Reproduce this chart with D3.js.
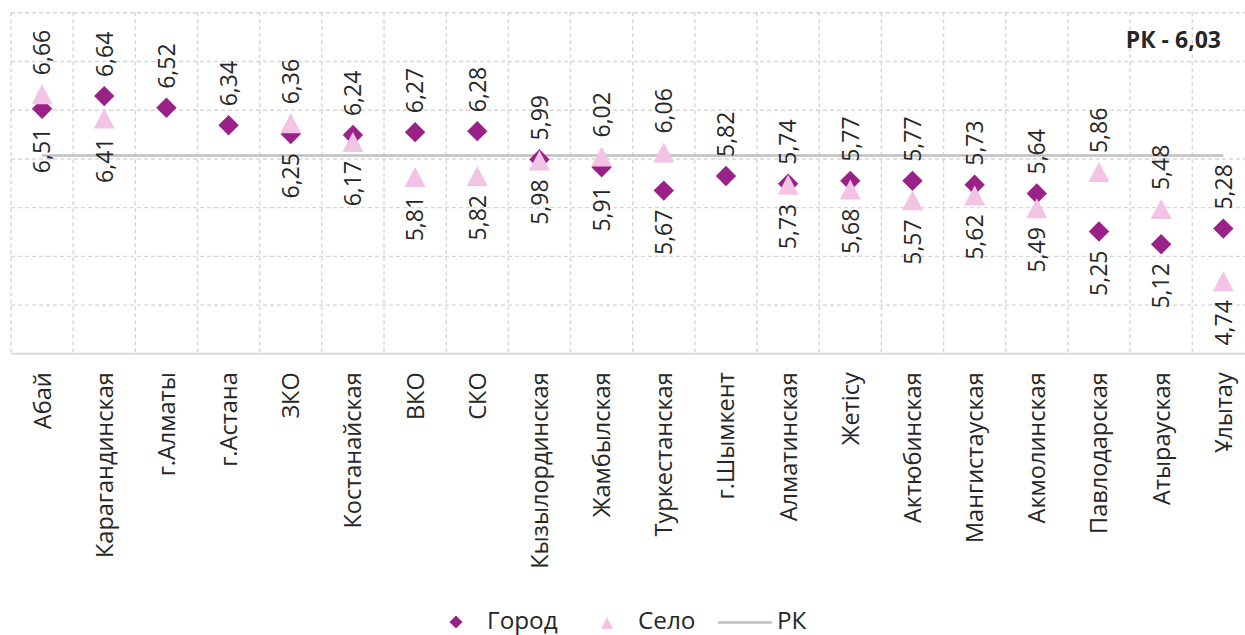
<!DOCTYPE html>
<html><head><meta charset="utf-8">
<script src="https://cdn.jsdelivr.net/npm/d3@7"></script>
<style>
html,body{margin:0;padding:0;background:#fff;overflow:hidden}
text{font-family:"Open Sans",sans-serif;fill:#262626}
</style></head>
<body><svg id="c" width="1245" height="635"></svg>
<script>
const categories = ["Абай","Карагандинская","г.Алматы","г.Астана","ЗКО","Костанайская","ВКО","СКО","Кызылординская","Жамбылская","Туркестанская","г.Шымкент","Алматинская","Жетісу","Актюбинская","Мангистауская","Акмолинская","Павлодарская","Атырауская","Ұлытау"];
const gorod = [6.51,6.64,6.52,6.34,6.25,6.24,6.27,6.28,5.99,5.91,5.67,5.82,5.74,5.77,5.77,5.73,5.64,5.25,5.12,5.28];
const selo  = [6.66,6.41,null,null,6.36,6.17,5.81,5.82,5.98,6.02,6.06,null,5.73,5.68,5.57,5.62,5.49,5.86,5.48,4.74];
const rk = 6.03;
const yTicks = [4,4.5,5,5.5,6,6.5,7,7.5];
const seriesNames = ["Город","Село","РК"];

const fmt = v => v.toFixed(2).replace(".", ",");
const svg = d3.select("#c");
const pLeft = 11, pTop = 12.3, pBottom = 353.3, step = 62.17;
const x = d3.scaleBand().domain(categories).range([pLeft, pLeft + step*categories.length]).padding(0);
const y = d3.scaleLinear().domain([4, 7.5]).range([pBottom, pTop]);
const cx = c => x(c) + x.bandwidth()/2;
const gridColor = "#d6d6d6";

// horizontal grid
svg.append("g").attr("transform",`translate(${pLeft},0)`)
  .call(d3.axisLeft(y).tickValues(yTicks.filter(t=>t>4)).tickSize(-1300).tickFormat(""))
  .call(g=>g.select(".domain").remove())
  .call(g=>g.selectAll("line").attr("stroke",gridColor).attr("stroke-width",1.4).attr("stroke-dasharray","4,3"));
// vertical grid
svg.append("g").selectAll("line").data(categories.concat(["_end"])).join("line")
  .attr("x1",(d,i)=>pLeft+i*step).attr("x2",(d,i)=>pLeft+i*step)
  .attr("y1",pTop).attr("y2",pBottom)
  .attr("stroke",gridColor).attr("stroke-width",1.4).attr("stroke-dasharray","4,3");
// x axis
svg.append("g").attr("transform",`translate(0,${pBottom})`)
  .call(d3.axisBottom(x).tickSize(0).tickPadding(0))
  .call(g=>g.select(".domain").attr("stroke","#d9d9d9").attr("stroke-width",2))
  .call(g=>g.selectAll("text")
     .attr("transform","rotate(-90)")
     .attr("x",-19).attr("y",0).attr("dy","0.36em")
     .attr("text-anchor","end")
     .style("font-size","23.5px").style("font-family","'Open Sans',sans-serif").attr("fill","#262626"));

// RK line
svg.append("line")
  .attr("x1",cx(categories[0])).attr("x2",cx(categories[categories.length-1]))
  .attr("y1",y(rk)).attr("y2",y(rk))
  .attr("stroke","#bfbfbf").attr("stroke-width",2.6);

const dColor = "#9a2188", tColor = "#f3c3e6";
const diamond = s => `M0,${-s}L${s},0L0,${s}L${-s},0Z`;
const tri = (w,h) => `M0,${-h/2}L${w/2},${h/2}L${-w/2},${h/2}Z`;

const pts = categories.map((c,i)=>({c, g:gorod[i], s:selo[i]}));
svg.append("g").selectAll("path").data(pts.filter(d=>d.g!=null)).join("path")
  .attr("d",diamond(10.2)).attr("fill",dColor)
  .attr("transform",d=>`translate(${cx(d.c)},${y(d.g)})`);
svg.append("g").selectAll("path").data(pts.filter(d=>d.s!=null)).join("path")
  .attr("d",tri(21,20)).attr("fill",tColor)
  .attr("transform",d=>`translate(${cx(d.c)},${y(d.s)})`);

// labels
const labels = [];
pts.forEach(d=>{
  const vals = [d.g,d.s].filter(v=>v!=null);
  const hi = Math.max(...vals), lo = Math.min(...vals);
  labels.push({c:d.c, v:hi, pos:"up"});
  if (vals.length>1) labels.push({c:d.c, v:lo, pos:"down"});
});
svg.append("g").selectAll("text").data(labels).join("text")
  .attr("transform",d=>`translate(${cx(d.c)},${d.pos==="up"? y(d.v)-19 : y(d.v)+19}) rotate(-90)`)
  .attr("text-anchor",d=>d.pos==="up"?"start":"end")
  .attr("dy","0.36em")
  .style("font-size","23px")
  .text(d=>fmt(d.v));

// RK annotation
svg.append("text").attr("x",1221).attr("y",47.5).attr("text-anchor","end")
  .style("font-size","23px").style("font-weight","700").attr("fill","#000")
  .text("РК - " + fmt(rk));

// legend
const lg = svg.append("g");
lg.append("path").attr("d",diamond(6.5)).attr("fill",dColor).attr("transform","translate(456,622)");
lg.append("text").attr("x",487).attr("y",628.5).style("font-size","24.3px").text(seriesNames[0]);
lg.append("path").attr("d",tri(12,12)).attr("fill",tColor).attr("transform","translate(607,623)");
lg.append("text").attr("x",638).attr("y",628.5).style("font-size","24.3px").text(seriesNames[1]);
lg.append("line").attr("x1",718).attr("x2",772).attr("y1",622.5).attr("y2",622.5).attr("stroke","#bfbfbf").attr("stroke-width",2.6);
lg.append("text").attr("x",777).attr("y",628.5).style("font-size","24.3px").text(seriesNames[2]);
</script></body></html>
